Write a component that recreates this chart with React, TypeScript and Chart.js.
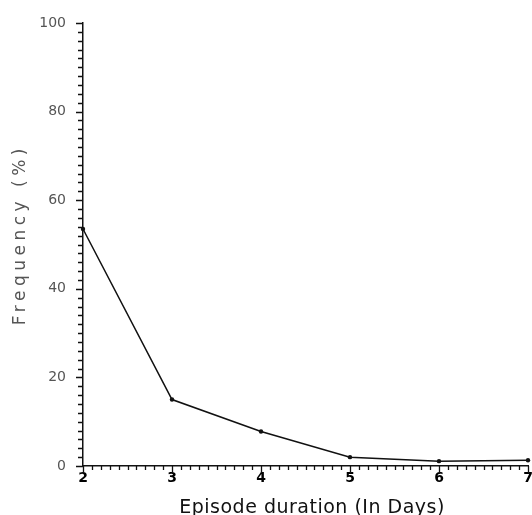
import React, { useEffect, useRef } from "react";
import { Chart, registerables } from "chart.js";

Chart.register(...registerables);

const durations = [2, 3, 4, 5, 6, 7];
const frequency = [53.5, 15, 7.8, 2, 1.1, 1.3];
const xTickValues = [2, 3, 4, 5, 6, 7];
const yTickValues = [0, 20, 40, 60, 80, 100];
const xTitle = "  Episode duration (In Days)";
const yTitle = "  Frequency (%)";

const minorTicks = {
  id: "minorTicks",
  afterLayout(chart: any) {
    const wrap = (scale: any, spacing: string) => {
      if (!scale || scale.__wrapped) return;
      const orig = scale.drawTitle;
      scale.drawTitle = function (...args: any[]) {
        const ctx = this.ctx;
        ctx.save();
        (ctx as any).letterSpacing = spacing;
        orig.apply(this, args);
        ctx.restore();
      };
      scale.__wrapped = true;
    };
    wrap(chart.scales.x, "0.5px");
    wrap(chart.scales.y, "4.5px");
  },
  afterDraw(chart: any) {
    const { ctx, scales } = chart;
    const xs = scales.x;
    const ys = scales.y;
    ctx.save();
    ctx.strokeStyle = "#111";
    ctx.lineWidth = 1.3;
    ctx.beginPath();
    for (let i = 0; i <= 50; i++) {
      const v = 2 + i / 10;
      const px = Math.round(xs.getPixelForValue(v)) + 0.5;
      const len = i % 10 === 0 ? 7 : 4;
      ctx.moveTo(px, ys.bottom);
      ctx.lineTo(px, ys.bottom + len);
    }
    for (let i = 0; i <= 50; i++) {
      const v = i * 2;
      const py = Math.round(ys.getPixelForValue(v)) + 0.5;
      const len = i % 10 === 0 ? 7 : 5;
      ctx.moveTo(xs.left - len, py);
      ctx.lineTo(xs.left, py);
    }
    ctx.stroke();
    ctx.restore();
  },
};

export default function App() {
  const ref = useRef<HTMLCanvasElement | null>(null);
  useEffect(() => {
    if (!ref.current) return;
    const chart = new Chart(ref.current, {
      type: "line",
      data: {
        datasets: [
          {
            data: durations.map((d, i) => ({ x: d, y: frequency[i] })),
            borderColor: "#111",
            borderWidth: 1.5,
            pointRadius: 2.2,
            pointBackgroundColor: "#111",
            pointBorderWidth: 0,
            tension: 0,
            clip: false as any,
          },
        ],
      },
      options: {
        animation: false,
        responsive: false,
        maintainAspectRatio: false,
        layout: { padding: { top: 23, right: 1, left: 0, bottom: 0 } },
        plugins: { legend: { display: false }, tooltip: { enabled: false } },
        scales: {
          x: {
            type: "linear",
            min: 2,
            max: 7,
            afterBuildTicks: (s: any) => {
              s.ticks = xTickValues.map((v) => ({ value: v }));
            },
            afterFit: (s: any) => {
              s.height = 49;
              s.paddingLeft = 0;
              s.paddingRight = 0;
            },
            grid: { display: false, drawTicks: false },
            border: { display: true, color: "#111", width: 1.5 },
            ticks: {
              color: "#000",
              padding: 4,
              maxRotation: 0,
              autoSkip: false,
              font: { family: "DejaVu Sans", size: 14, weight: "bold" },
            },
            title: {
              display: true,
              text: xTitle,
              color: "#111",
              padding: { top: 0, bottom: -3 },
              font: { family: "DejaVu Sans", size: 19, lineHeight: 1 },
            },
          },
          y: {
            type: "linear",
            min: 0,
            max: 100,
            afterBuildTicks: (s: any) => {
              s.ticks = yTickValues.map((v) => ({ value: v }));
            },
            afterFit: (s: any) => {
              s.width = 83;
              s.paddingTop = 0;
              s.paddingBottom = 0;
            },
            grid: { display: false, drawTicks: false },
            border: { display: true, color: "#111", width: 1.5 },
            ticks: {
              color: "#555",
              padding: 17,
              font: { family: "DejaVu Sans", size: 14 },
            },
            title: {
              display: true,
              text: yTitle,
              color: "#555",
              padding: { top: 10, bottom: 0 },
              font: { family: "DejaVu Sans", size: 17, lineHeight: 1.2 },
            },
          },
        },
      },
      plugins: [minorTicks],
    });
    return () => chart.destroy();
  }, []);
  return (
    <div style={{ position: "fixed", left: 0, top: 0, width: 532, height: 515, background: "#fff" }}>
      <canvas ref={ref} width={532} height={515} style={{ width: 532, height: 515 }} />
    </div>
  );
}
